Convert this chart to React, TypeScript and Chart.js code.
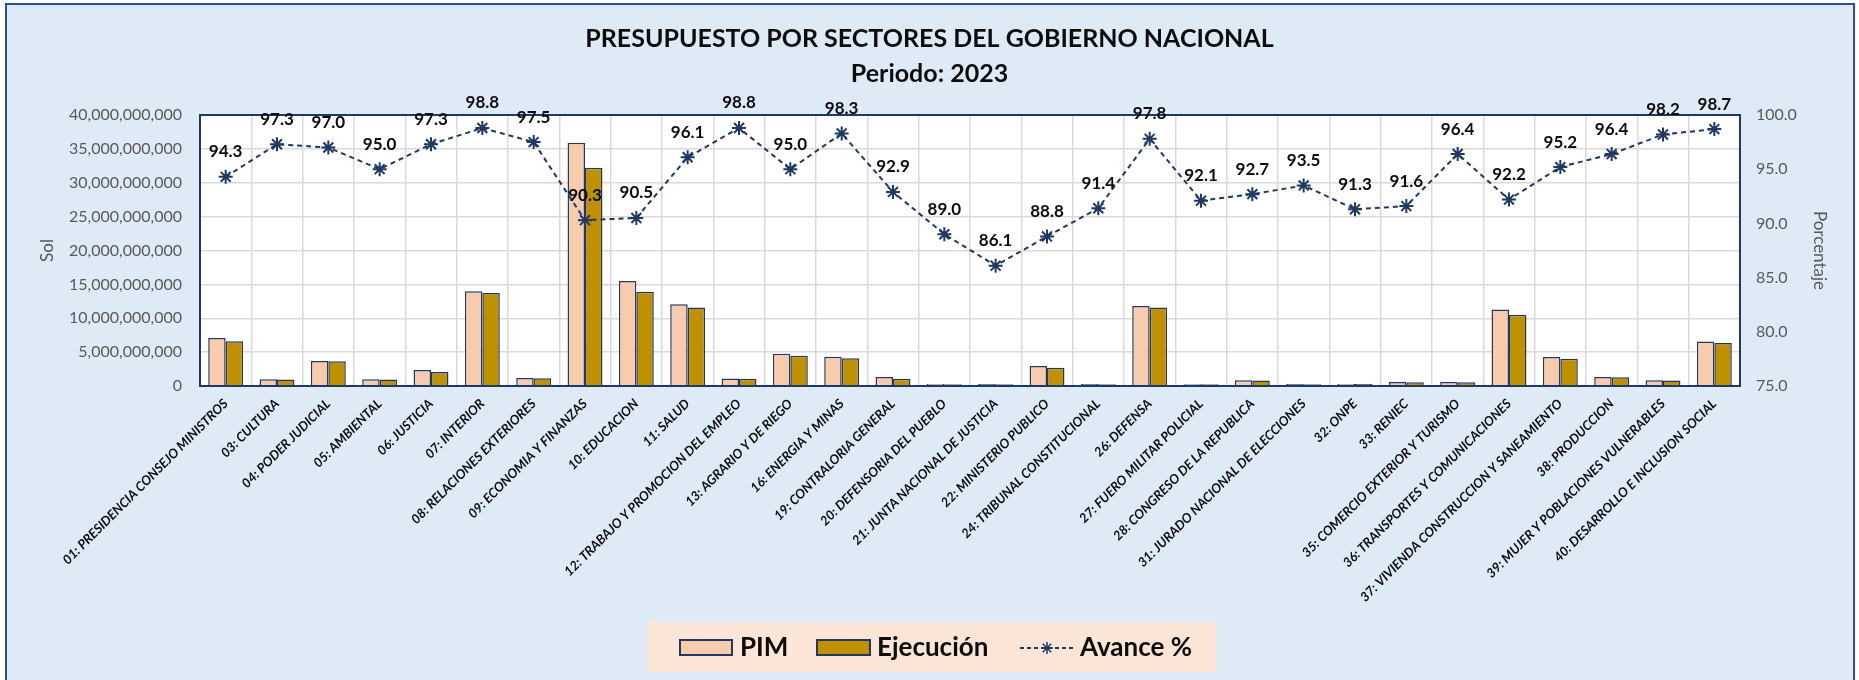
import React, { useEffect, useRef } from "react";
import { Chart, registerables } from "chart.js";

Chart.register(...registerables);

const categories = [
  "01: PRESIDENCIA CONSEJO MINISTROS",
  "03: CULTURA",
  "04: PODER JUDICIAL",
  "05: AMBIENTAL",
  "06: JUSTICIA",
  "07: INTERIOR",
  "08: RELACIONES EXTERIORES",
  "09: ECONOMIA Y FINANZAS",
  "10: EDUCACION",
  "11: SALUD",
  "12: TRABAJO Y PROMOCION DEL EMPLEO",
  "13: AGRARIO Y DE RIEGO",
  "16: ENERGIA Y MINAS",
  "19: CONTRALORIA GENERAL",
  "20: DEFENSORIA DEL PUEBLO",
  "21: JUNTA NACIONAL DE JUSTICIA",
  "22: MINISTERIO PUBLICO",
  "24: TRIBUNAL CONSTITUCIONAL",
  "26: DEFENSA",
  "27: FUERO MILITAR POLICIAL",
  "28: CONGRESO DE LA REPUBLICA",
  "31: JURADO NACIONAL DE ELECCIONES",
  "32: ONPE",
  "33: RENIEC",
  "35: COMERCIO EXTERIOR Y TURISMO",
  "36: TRANSPORTES Y COMUNICACIONES",
  "37: VIVIENDA CONSTRUCCION Y SANEAMIENTO",
  "38: PRODUCCION",
  "39: MUJER Y POBLACIONES VULNERABLES",
  "40: DESARROLLO E INCLUSION SOCIAL",
];

const pim = [
  7.1e9, 0.98e9, 3.68e9, 0.98e9, 2.36e9, 13.98e9, 1.18e9, 35.9e9, 15.5e9, 12.06e9,
  1.1e9, 4.77e9, 4.33e9, 1.33e9, 0.3e9, 0.28e9, 2.95e9, 0.28e9, 11.8e9, 0.25e9,
  0.84e9, 0.28e9, 0.3e9, 0.59e9, 0.59e9, 11.3e9, 4.28e9, 1.33e9, 0.84e9, 6.55e9,
];

const ejecucion = [
  6.6e9, 0.95e9, 3.66e9, 0.95e9, 2.06e9, 13.74e9, 1.16e9, 32.2e9, 13.9e9, 11.6e9,
  1.06e9, 4.48e9, 4.08e9, 1.08e9, 0.27e9, 0.25e9, 2.7e9, 0.26e9, 11.6e9, 0.24e9,
  0.8e9, 0.26e9, 0.28e9, 0.57e9, 0.57e9, 10.5e9, 4.04e9, 1.3e9, 0.8e9, 6.35e9,
];

const avance = [
  94.3, 97.3, 97.0, 95.0, 97.3, 98.8, 97.5, 90.3, 90.5, 96.1,
  98.8, 95.0, 98.3, 92.9, 89.0, 86.1, 88.8, 91.4, 97.8, 92.1,
  92.7, 93.5, 91.3, 91.6, 96.4, 92.2, 95.2, 96.4, 98.2, 98.7,
];

const titleLines = ["PRESUPUESTO POR SECTORES DEL GOBIERNO NACIONAL", "Periodo: 2023"];
const legendLabels = ["PIM", "Ejecución", "Avance %"];

const NAVY = "#1F3864";
const PEACH = "#F8CBAD";
const GOLD = "#BF9000";
const GRID = "#D9D9D9";
const TICK = "#595959";
const FONT = "Lato, 'Open Sans', sans-serif";

const AREA = { left: 200, right: 1740, top: 115, bottom: 386 };
const W = 1859;
const H = 680;

function drawStar(ctx: CanvasRenderingContext2D, x: number, y: number, r: number) {
  ctx.beginPath();
  ctx.moveTo(x - r, y);
  ctx.lineTo(x + r, y);
  ctx.moveTo(x, y - r);
  ctx.lineTo(x, y + r);
  const d = r * Math.SQRT1_2;
  ctx.moveTo(x - d, y - d);
  ctx.lineTo(x + d, y + d);
  ctx.moveTo(x - d, y + d);
  ctx.lineTo(x + d, y - d);
  ctx.stroke();
}

const decorPlugin = {
  id: "decor",
  beforeDraw(chart: any) {
    const { ctx, chartArea } = chart;
    ctx.save();
    ctx.fillStyle = "#FFFFFF";
    ctx.fillRect(chartArea.left, chartArea.top, chartArea.right - chartArea.left, chartArea.bottom - chartArea.top);
    ctx.restore();
  },
  afterDatasetsDraw(chart: any) {
    const { ctx, chartArea } = chart;
    ctx.save();
    ctx.strokeStyle = NAVY;
    ctx.lineWidth = 2;
    ctx.strokeRect(chartArea.left, chartArea.top, chartArea.right - chartArea.left, chartArea.bottom - chartArea.top);
    ctx.restore();

    // data labels for Avance %
    const meta = chart.getDatasetMeta(2);
    const ds = chart.data.datasets[2];
    ctx.save();
    ctx.font = `bold 17px ${FONT}`;
    ctx.fillStyle = "#0D0D0D";
    ctx.textAlign = "center";
    ctx.textBaseline = "middle";
    meta.data.forEach((pt: any, i: number) => {
      ctx.fillText(Number(ds.data[i]).toFixed(1), pt.x, pt.y - 25);
    });
    ctx.restore();
  },
  afterDraw(chart: any) {
    const { ctx } = chart;
    ctx.save();
    // legend background
    ctx.fillStyle = "#FBE5D6";
    ctx.fillRect(648, 622, 568, 50);
    ctx.font = `bold 26px ${FONT}`;
    ctx.textBaseline = "middle";
    ctx.textAlign = "left";
    const cy = 648;
    // PIM
    ctx.fillStyle = PEACH;
    ctx.fillRect(680, 640, 52, 15);
    ctx.strokeStyle = NAVY;
    ctx.lineWidth = 2;
    ctx.strokeRect(680, 640, 52, 15);
    ctx.fillStyle = "#0D0D0D";
    ctx.fillText(legendLabels[0], 740, cy);
    // Ejecucion
    ctx.fillStyle = GOLD;
    ctx.fillRect(817, 640, 53, 15);
    ctx.strokeRect(817, 640, 53, 15);
    ctx.fillStyle = "#0D0D0D";
    ctx.fillText(legendLabels[1], 877, cy);
    // Avance
    ctx.strokeStyle = NAVY;
    ctx.lineWidth = 2;
    ctx.setLineDash([4, 3]);
    ctx.beginPath();
    ctx.moveTo(1020, cy);
    ctx.lineTo(1074, cy);
    ctx.stroke();
    ctx.setLineDash([]);
    ctx.lineWidth = 1.5;
    drawStar(ctx, 1047, cy, 6);
    ctx.fillStyle = "#0D0D0D";
    ctx.fillText(legendLabels[2], 1080, cy);
    ctx.restore();
  },
};

export default function App() {
  const ref = useRef<HTMLCanvasElement | null>(null);

  useEffect(() => {
    if (!ref.current) return;
    const chart = new Chart(ref.current, {
      data: {
        labels: categories,
        datasets: [
          {
            type: "bar",
            label: legendLabels[0],
            data: pim,
            backgroundColor: PEACH,
            borderColor: NAVY,
            borderWidth: 1.5,
            yAxisID: "y",
            order: 2,
            categoryPercentage: 0.68,
            barPercentage: 1.0,
          },
          {
            type: "bar",
            label: legendLabels[1],
            data: ejecucion,
            backgroundColor: GOLD,
            borderColor: NAVY,
            borderWidth: 1.5,
            yAxisID: "y",
            order: 2,
            categoryPercentage: 0.68,
            barPercentage: 1.0,
          },
          {
            type: "line",
            label: legendLabels[2],
            data: avance,
            borderColor: NAVY,
            borderWidth: 2,
            borderDash: [5, 4],
            pointStyle: "star",
            pointRadius: 7,
            pointBorderWidth: 2,
            pointBorderColor: NAVY,
            pointBackgroundColor: NAVY,
            yAxisID: "y1",
            order: 0,
            tension: 0,
          },
        ] as any,
      },
      options: {
        responsive: false,
        animation: false,
        layout: { padding: { top: 0, left: 0, right: 0, bottom: 0 } },
        plugins: {
          legend: { display: false },
          tooltip: { enabled: false },
          title: {
            display: true,
            text: titleLines,
            color: "#0D0D0D",
            font: { family: FONT, size: 25, weight: "bold", lineHeight: 1.4 },
            padding: { top: 21.5, bottom: 23.5 },
          },
        },
        scales: {
          x: {
            offset: true,
            grid: { display: true, color: GRID, lineWidth: 1.5, offset: true, drawTicks: false },
            border: { display: false },
            ticks: {
              autoSkip: false,
              minRotation: 45,
              maxRotation: 45,
              padding: 10,
              color: "#0D0D0D",
              font: { family: FONT, size: 13, weight: "bold", style: "italic" },
            },
            afterFit(scale: any) {
              scale.height = H - AREA.bottom;
            },
          },
          y: {
            position: "left",
            min: 0,
            max: 40000000000,
            grid: { color: GRID, lineWidth: 1.5, drawTicks: false },
            border: { display: false },
            ticks: {
              stepSize: 5000000000,
              padding: 18,
              color: TICK,
              font: { family: FONT, size: 16 },
              callback: (v: any) => Number(v).toLocaleString("en-US"),
            },
            title: {
              display: true,
              text: "Sol",
              color: TICK,
              font: { family: FONT, size: 17 },
              padding: { top: 37, bottom: 0 },
            },
            afterFit(scale: any) {
              scale.width = AREA.left;
            },
          },
          y1: {
            position: "right",
            min: 75,
            max: 100,
            grid: { display: false, drawTicks: false },
            border: { display: false },
            ticks: {
              stepSize: 5,
              padding: 16,
              color: TICK,
              font: { family: FONT, size: 16 },
              callback: (v: any) => Number(v).toFixed(1),
            },
            title: {
              display: true,
              text: "Porcentaje",
              color: TICK,
              font: { family: FONT, size: 17 },
              padding: { top: 29, bottom: 0 },
            },
            afterFit(scale: any) {
              scale.width = W - AREA.right;
            },
          },
        },
      } as any,
      plugins: [decorPlugin],
    });
    return () => chart.destroy();
  }, []);

  return (
    <div style={{ position: "absolute", left: 0, top: 0, width: W, height: H, overflow: "hidden" }}>
      <div
        style={{
          position: "absolute",
          left: 5,
          top: 3,
          width: 1846,
          height: 720,
          background: "#DEEBF7",
          border: `2px solid #2F4F8F`,
        }}
      />
      <canvas ref={ref} width={W} height={H} style={{ position: "absolute", left: 0, top: 0 }} />
    </div>
  );
}
